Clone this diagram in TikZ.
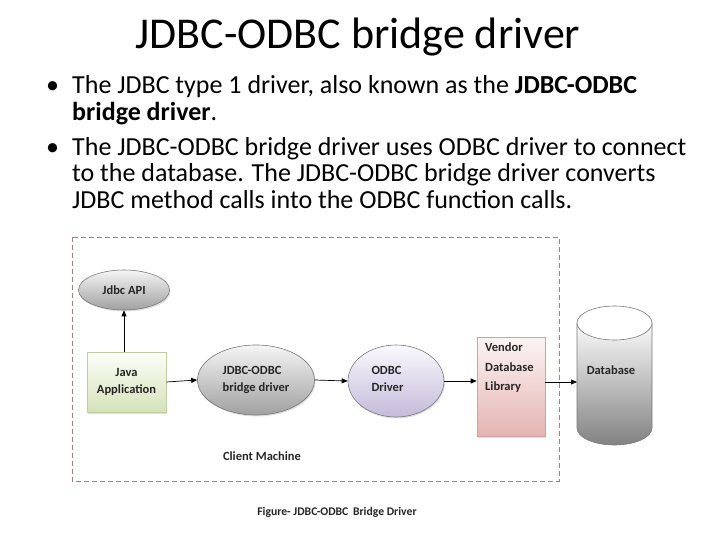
\documentclass[tikz,border=0pt]{standalone}
\usepackage{fontspec}
\setmainfont{Carlito}
\usetikzlibrary{arrows.meta,shadows,shapes.geometric}
\definecolor{boxdash}{RGB}{160,130,130}
\definecolor{elgrayT}{RGB}{245,245,245}
\definecolor{elgrayB}{RGB}{160,160,160}
\definecolor{elborder}{RGB}{120,120,120}
\definecolor{lavT}{RGB}{250,249,253}
\definecolor{lavB}{RGB}{196,186,218}
\definecolor{grnT}{RGB}{252,254,248}
\definecolor{grnB}{RGB}{212,226,186}
\definecolor{grnBorder}{RGB}{190,206,160}
\definecolor{pnkT}{RGB}{252,244,244}
\definecolor{pnkB}{RGB}{228,180,178}
\definecolor{pnkBorder}{RGB}{210,160,158}
\definecolor{dbT}{RGB}{250,250,250}
\definecolor{dbB}{RGB}{130,130,130}
\tikzset{
  lbl/.style={font=\bfseries\fontsize{12.5}{17}\selectfont, text=black!85, align=left},
  ell/.style={ellipse, draw=elborder, line width=0.6pt, shading=axis, top color=elgrayT, bottom color=elgrayB, inner sep=0pt, drop shadow={opacity=0.25, shadow xshift=1pt, shadow yshift=-1.5pt}},
  rbox/.style={rectangle, line width=0.6pt, inner sep=0pt, drop shadow={opacity=0.25, shadow xshift=1pt, shadow yshift=-1.5pt}},
  conn/.style={-{Triangle[length=6pt,width=5pt]}, line width=0.7pt, black},
  bline/.style={anchor=base west, inner sep=0pt, font=\fontsize{26}{28}\selectfont}
}
\begin{document}
\begin{tikzpicture}[x=1pt,y=-1pt]
\useasboundingbox (0,0) rectangle (720,540);
% title
\node[anchor=base, inner sep=0pt, font=\fontsize{44}{50}\selectfont] (title) at (358,49) {JDBC-ODBC bridge driver};
% bullets
\node[bline] (b1d) at (46,94) {•};
\node[bline] (b1a) at (72,94) {The JDBC type 1 driver, also known as the \textbf{JDBC-ODBC}};
\node[bline] (b1b) at (72,121) {\textbf{bridge driver}.};
\node[bline] (b2d) at (46,156) {•};
\node[bline] (b2a) at (72,156) {The JDBC-ODBC bridge driver uses ODBC driver to connect};
\node[bline] (b2b) at (72,182) {to the database. The JDBC-ODBC bridge driver converts};
\node[bline] (b2c) at (72,208) {JDBC method calls into the ODBC function calls.};
% client machine box
\draw[boxdash, dashed, dash pattern=on 5pt off 3pt, line width=0.8pt] (72,237) rectangle (559,481);
% nodes
\node[ell, minimum width=91pt, minimum height=40pt, lbl] (api) at (124,290) {Jdbc API};
\node[rbox, draw=grnBorder, shading=axis, top color=grnT, bottom color=grnB, minimum width=79pt, minimum height=60pt, lbl, align=center] (java) at (126.5,382) {Java\\Application};
\node[ell, minimum width=117pt, minimum height=70pt, lbl] (bridge) at (256,380) {JDBC-ODBC\\bridge driver};
\node[ell, top color=lavT, bottom color=lavB, minimum width=96pt, minimum height=72pt] (odbc) at (396,381) {};
\node[lbl, anchor=west] (odbctxt) at (368,379) {ODBC\\Driver};
\node[rbox, draw=pnkBorder, shading=axis, top color=pnkT, bottom color=pnkB, minimum width=68pt, minimum height=99pt] (vendor) at (511,386.5) {};
\node[lbl, font=\bfseries\fontsize{12.5}{19.5}\selectfont, anchor=north west, inner sep=0pt] (vendortxt) at (485,343) {Vendor\\Database\\Library};
% database cylinder
\shade[top color=dbT, bottom color=dbB, draw=elborder, line width=0.6pt]
  (577,323) -- (577,428) arc[start angle=180, end angle=360, x radius=37.5pt, y radius=17pt] -- (652,323) -- cycle;
\filldraw[fill=white, draw=elborder, line width=0.6pt] (614.5,323) ellipse [x radius=37.5pt, y radius=17pt];
\node[lbl] (db) at (611,370) {Database};
\coordinate (dbL) at (577,382);
% connectors
\draw[conn] (java.north -| api.south) -- (api.south);
\draw[conn] (java.east) -- (bridge.west);
\draw[conn] (bridge.east) -- (odbc.west);
\draw[conn] (odbc.east) -- (odbc.east -| vendor.west);
\draw[conn] (vendor.east |- dbL) -- (dbL);
% labels
\node[lbl] (client) at (262,456) {Client Machine};
\node[lbl, font=\bfseries\fontsize{11.7}{14}\selectfont] (caption) at (337,512) {Figure- JDBC-ODBC\, Bridge Driver};
\end{tikzpicture}
\end{document}
